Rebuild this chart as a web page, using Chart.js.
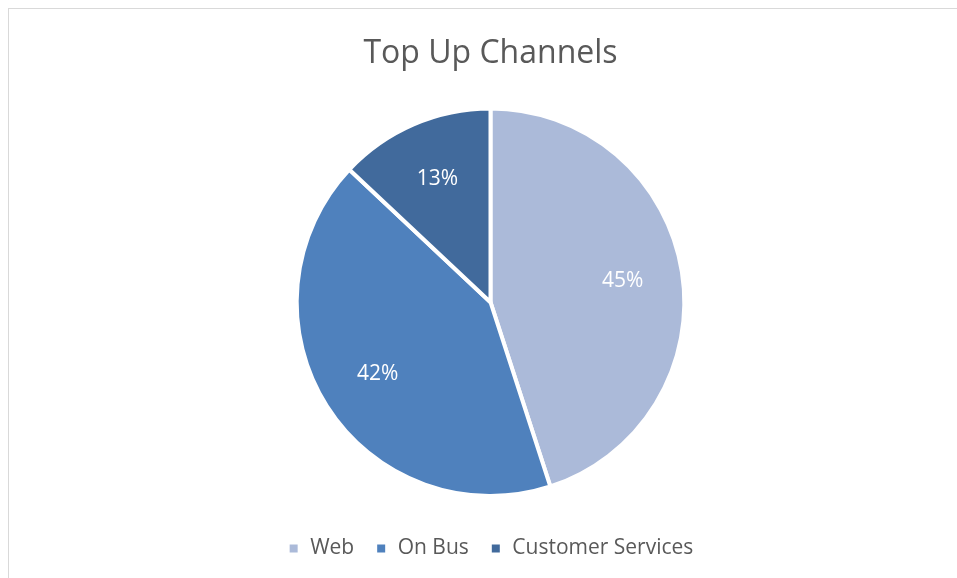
<!DOCTYPE html>
<html>
<head>
<meta charset="utf-8">
<script src="https://cdn.jsdelivr.net/npm/chart.js@4.4.1/dist/chart.umd.min.js"></script>
<style>
  html, body { margin: 0; padding: 0; background: #fff; }
  #frame {
    position: absolute; left: 8px; top: 8px; width: 1000px; height: 620px;
    border-top: 1px solid #d9d9d9; border-left: 1px solid #d9d9d9;
  }
  #wrap { position: absolute; left: 0; top: 0; width: 957px; height: 578px; }
</style>
</head>
<body>
<div id="frame"></div>
<div id="wrap"><canvas id="chart_0"></canvas></div>
<script>
var channels = ["Web", "On Bus", "Customer Services"];
var shares = [45, 42, 13];
var colours = ["#abbad9", "#4f81bd", "#416a9c"];

//Percent labels inside each slice.
var sliceLabels = {
	id: 'sliceLabels',
	afterDatasetsDraw: function(chart) {
		var ctx = chart.ctx;
		var meta = chart.getDatasetMeta(0);
		var total = shares.reduce(function(a, b) { return a + b; }, 0);
		ctx.save();
		ctx.font = '21px "Open Sans", sans-serif';
		ctx.fillStyle = '#ffffff';
		ctx.textAlign = 'center';
		ctx.textBaseline = 'middle';
		for (var i = 0; i < meta.data.length; ++i) {
			var arc = meta.data[i];
			var mid = (arc.startAngle + arc.endAngle) / 2;
			var r = arc.outerRadius * 0.69;
			var x = arc.x + Math.cos(mid) * r;
			var y = arc.y + Math.sin(mid) * r;
			ctx.fillText(Math.round(shares[i] / total * 100) + '%', x, y);
		}
		ctx.restore();
	}
};

//Push the legend row a little further below the pie.
var legendDrop = {
	id: 'legendDrop',
	afterLayout: function(chart) {
		chart.legend.top += 19;
		chart.legend.bottom += 19;
	}
};

var chart = new Chart(document.getElementById("chart_0"), {
	type: 'pie',
	data: {
		labels: channels,
		datasets: [
			{
			data: shares,
			backgroundColor: colours,
			borderColor: '#ffffff',
			borderWidth: 4,
			hoverOffset: 0
			}
		]
	},
	options: {
		responsive: true,
		maintainAspectRatio: false,
		animation: false,
		layout: { padding: { top: 0, bottom: 28, left: 24 } },
		plugins: {
			title: {
				display: true,
				text: 'Top Up Channels',
				color: '#595959',
				font: { family: '"Open Sans", sans-serif', size: 32, weight: 'normal' },
				padding: { top: 35, bottom: 33 }
			},
			legend: {
				position: 'bottom',
				labels: {
					color: '#595959',
					font: { family: '"Open Sans", sans-serif', size: 21 },
					usePointStyle: true,
					pointStyle: 'rect',
					boxWidth: 12,
					boxHeight: 12,
					padding: 21
				}
			},
			tooltip: { enabled: false }
		}
	},
	plugins: [sliceLabels, legendDrop]
});
</script>
</body>
</html>
